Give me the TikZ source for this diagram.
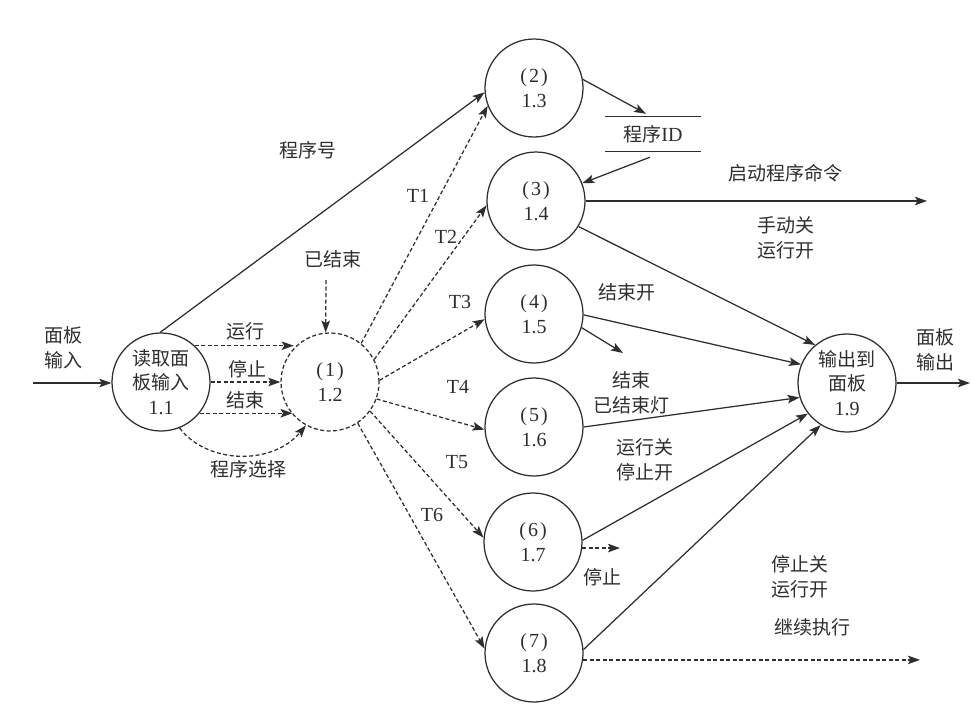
\documentclass[tikz,border=0pt]{standalone}
\usepackage{fontspec}
\setmainfont{Liberation Serif}
\newfontfamily\cjk[Scale=0.95]{Noto Sans CJK SC}
\usetikzlibrary{arrows.meta}
\definecolor{inkc}{HTML}{2E2E2E}
\newcommand{\zh}[1]{{\cjk #1}}
\newcommand{\pn}[1]{(\kern2pt#1\kern2pt)}
\begin{document}
\begin{tikzpicture}[x=1pt,y=-1pt,
  proc/.style={circle, draw=inkc, line width=1.25pt, minimum size=98pt, inner sep=0pt, align=center, text=inkc},
  lbl/.style={text=inkc, align=center, inner sep=0pt},
  arr/.style={draw=inkc, line width=1.25pt, -{Stealth[length=12pt,width=8.5pt,inset=2.5pt]}},
  dpat/.style={dash pattern=on 4pt off 2.5pt},
  darr/.style={arr, dpat},
  font=\fontsize{20}{24.5}\selectfont
]
\useasboundingbox (0,0) rectangle (972,704);

% processes
\node[proc] (n11) at (161,382) {\zh{读取面}\\\zh{板输入}\\1.1};
\node[proc, dpat] (n12) at (330,382) {\pn{1}\\1.2};
\node[proc] (n13) at (534,88) {\pn{2}\\1.3};
\node[proc] (n14) at (536,201) {\pn{3}\\1.4};
\node[proc] (n15) at (534,314) {\pn{4}\\1.5};
\node[proc] (n16) at (534,427) {\pn{5}\\1.6};
\node[proc] (n17) at (533,542) {\pn{6}\\1.7};
\node[proc] (n18) at (534,653) {\pn{7}\\1.8};
\node[proc] (n19) at (847,383) {\zh{输出到}\\\zh{面板}\\1.9};

% data store
\node[lbl, minimum width=95pt, minimum height=34pt] (store) at (653,134) {\zh{程序}ID};
\draw[inkc, line width=1.25pt] (store.north west) -- (store.north east);
\draw[inkc, line width=1.25pt] (store.south west) -- (store.south east);

% free ends
\coordinate (inS) at (33,383);
\coordinate (js) at (326,280);
\coordinate (cmdE) at (927,200);
\coordinate (outE) at (970,383);
\coordinate (stopE) at (620,548);
\coordinate (contE) at (920,660);
\coordinate (endE) at (623,353);

% input
\draw[arr] (inS) -- (inS -| n11.west);
\node[lbl] (lin) at (63,348) {\zh{面板}\\\zh{输入}};

% 1.1 -> 1.2
\draw[darr] (n11.47) -- (n11.47 -| n12.137);
\draw[darr] (n11.east) -- (n12.west);
\draw[darr] (n11.-39) -- (n11.-39 -| n12.221);
\draw[darr] (n11.-68) .. controls (207,464) and (272,466) .. (n12.241);
\node[lbl] (l1) at (245,331) {\zh{运行}};
\node[lbl] (l2) at (247,369) {\zh{停止}};
\node[lbl] (l3) at (245,400) {\zh{结束}};
\node[lbl] (l4) at (248,469) {\zh{程序选择}};

% finished
\draw[darr] (js) -- (n12.95);
\node[lbl] (l5) at (333,259) {\zh{已结束}};

% program number
\draw[arr] (n11.91) -- (n13.185);
\node[lbl] (l6) at (308,150) {\zh{程序号}};

% T arrows
\draw[darr] (n12.51) -- (n13.201);
\draw[darr] (n12.27) -- (n14.185);
\draw[darr] (n12.2) -- (n15.186);
\draw[darr] (n12.-20) -- (n16.183);
\draw[darr] (n12.-36) -- (n17.175);
\draw[darr] (n12.-56) -- (n18.175);
\node[lbl] (t1) at (418,196) {T1};
\node[lbl] (t2) at (446,237) {T2};
\node[lbl] (t3) at (460,302) {T3};
\node[lbl] (t4) at (458,387) {T4};
\node[lbl] (t5) at (457,462) {T5};
\node[lbl] (t6) at (432,515) {T6};

% store
\draw[arr] (n13.10) -- ([xshift=-7pt,yshift=3pt]store.north);
\draw[arr] ([xshift=-3pt,yshift=-6pt]store.south) -- (n14.21);

% outputs
\draw[arr] (n14.0) -- (n14.0 -| cmdE);
\node[lbl] (l7) at (785,173) {\zh{启动程序命令}};
\draw[arr] (n14.-31) -- (n19.130);
\node[lbl] (l8) at (786,238) {\zh{手动关}\\\zh{运行开}};
\draw[arr] (n15.-1) -- (n19.158);
\node[lbl] (l9) at (627,292) {\zh{结束开}};
\draw[arr] (n15.-16) -- (endE);
\node[lbl] (l10) at (631,393) {\zh{结束}\\\zh{已结束灯}};
\draw[arr] (n16.0) -- (n19.197);
\node[lbl] (l11) at (645,460) {\zh{运行关}\\\zh{停止开}};
\draw[arr] (n17.2) -- (n19.218);
\draw[darr] (n17.-7) -- (n17.-7 -| stopE);
\node[lbl] (l12) at (602,577) {\zh{停止}};
\draw[arr] (n18.4) -- (n19.238);
\draw[darr] (n18.-8) -- (n18.-8 -| contE);
\node[lbl] (l13) at (800,577) {\zh{停止关}\\\zh{运行开}};
\node[lbl] (l14) at (812,627) {\zh{继续执行}};
\draw[arr] (n19.east) -- (n19.east -| outE);
\node[lbl] (l15) at (935,350) {\zh{面板}\\\zh{输出}};
\end{tikzpicture}
\end{document}
